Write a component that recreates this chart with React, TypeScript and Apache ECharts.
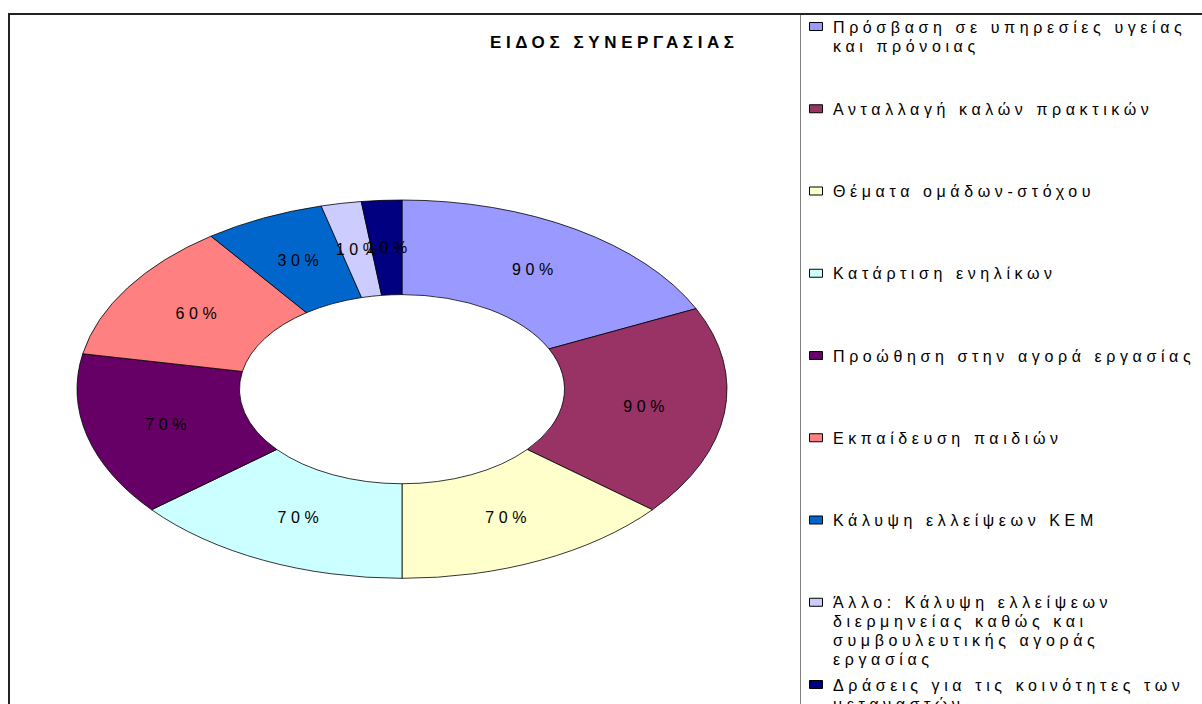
import React, { useEffect, useRef } from "react";
import * as echarts from "echarts";

const chartTitle = "ΕΙΔΟΣ ΣΥΝΕΡΓΑΣΙΑΣ";

const categories = [
  "Πρόσβαση σε υπηρεσίες υγείας και πρόνοιας",
  "Ανταλλαγή καλών πρακτικών",
  "Θέματα ομάδων-στόχου",
  "Κατάρτιση ενηλίκων",
  "Προώθηση στην αγορά εργασίας",
  "Εκπαίδευση παιδιών",
  "Κάλυψη ελλείψεων ΚΕΜ",
  "Άλλο: Κάλυψη ελλείψεων διερμηνείας καθώς και συμβουλευτικής αγοράς εργασίας",
  "Δράσεις για τις κοινότητες των μεταναστών",
];

// how the legend entries wrap in the reference
const legendLines = [
  ["Πρόσβαση σε υπηρεσίες υγείας", "και πρόνοιας"],
  ["Ανταλλαγή καλών πρακτικών"],
  ["Θέματα ομάδων-στόχου"],
  ["Κατάρτιση ενηλίκων"],
  ["Προώθηση στην αγορά εργασίας"],
  ["Εκπαίδευση παιδιών"],
  ["Κάλυψη ελλείψεων ΚΕΜ"],
  ["Άλλο: Κάλυψη ελλείψεων", "διερμηνείας καθώς και", "συμβουλευτικής αγοράς", "εργασίας"],
  ["Δράσεις για τις κοινότητες των", "μεταναστών"],
];

const percentValues = [90, 90, 70, 70, 70, 60, 30, 10, 10];

const sliceColors = [
  "#9999FF",
  "#993366",
  "#FFFFCC",
  "#CCFFFF",
  "#660066",
  "#FF8080",
  "#0066CC",
  "#CCCCFF",
  "#000080",
];

const FONT = '"Liberation Sans", Arial, Helvetica, sans-serif';
const SPACING = 4.6;

export default function App() {
  const ref = useRef<HTMLDivElement>(null);

  useEffect(() => {
    if (!ref.current) return;
    const chart = echarts.init(ref.current, null, { renderer: "svg" });

    const total = percentValues.reduce((a, b) => a + b, 0);
    const starts: number[] = [];
    let acc = 0;
    percentValues.forEach((v) => {
      starts.push(acc);
      acc += v;
    });

    const CX = 402;
    const CY = 389;
    const RX = 325;
    const RY = 189;
    const INNER = 0.5;
    const LABEL_R = 0.75;

    const legendGraphics: any[] = [];
    legendLines.forEach((lines, i) => {
      const baseY = 27 + 82.25 * i;
      legendGraphics.push({
        type: "rect",
        shape: { x: 809.5, y: baseY - 4.5, width: 13, height: 8 },
        style: { fill: sliceColors[i], stroke: "#000", lineWidth: 1 },
        z: 10,
      });
      legendGraphics.push({
        type: "text",
        x: 833,
        y: baseY - 9.5,
        style: {
          text: lines.join("\n"),
          font: `16px ${FONT}`,
          fill: "#000",
          align: "left",
          verticalAlign: "top",
          lineHeight: 19,
        },
        z: 10,
      });
    });

    chart.setOption({
      animation: false,
      backgroundColor: "#ffffff",
      graphic: [
        {
          type: "line",
          shape: { x1: 8, y1: 14, x2: 1202, y2: 14 },
          style: { stroke: "#222", lineWidth: 2 },
          z: 20,
        },
        {
          type: "line",
          shape: { x1: 9, y1: 13, x2: 9, y2: 704 },
          style: { stroke: "#222", lineWidth: 2 },
          z: 20,
        },
        {
          type: "line",
          shape: { x1: 800.5, y1: 15, x2: 800.5, y2: 704 },
          style: { stroke: "#808080", lineWidth: 1 },
          z: 20,
        },
        {
          type: "text",
          x: 612 + SPACING / 2,
          y: 42,
          style: {
            text: chartTitle,
            font: `bold 17px ${FONT}`,
            fill: "#000",
            align: "center",
            verticalAlign: "middle",
          },
          z: 20,
        },
        ...legendGraphics,
      ],
      series: [
        {
          type: "custom",
          coordinateSystem: "none",
          data: percentValues.map((v, i) => ({ value: v, name: categories[i] })),
          renderItem: (params: any, api: any) => {
            const i = params.dataIndex;
            const v = api.value(0);
            const a0 = -Math.PI / 2 + (starts[i] / total) * Math.PI * 2;
            const a1 = a0 + (v / total) * Math.PI * 2;
            const mid = (a0 + a1) / 2;
            return {
              type: "group",
              children: [
                {
                  type: "sector",
                  shape: {
                    cx: CX,
                    cy: CY,
                    r: RX,
                    r0: RX * INNER,
                    startAngle: a0,
                    endAngle: a1,
                    clockwise: true,
                  },
                  originX: CX,
                  originY: CY,
                  scaleY: RY / RX,
                  style: {
                    fill: sliceColors[i],
                    stroke: "#000",
                    lineWidth: 1,
                    strokeNoScale: true,
                  },
                },
                {
                  type: "text",
                  x: CX + LABEL_R * RX * Math.cos(mid) + SPACING / 2,
                  y: CY + LABEL_R * RY * Math.sin(mid),
                  z2: 100,
                  style: {
                    text: `${v}%`,
                    font: `16px ${FONT}`,
                    fill: "#000",
                    align: "center",
                    verticalAlign: "middle",
                  },
                },
              ],
            };
          },
        },
      ],
    });

    return () => chart.dispose();
  }, []);

  return (
    <>
      <style>{`.chart-root svg text { letter-spacing: ${SPACING}px; }`}</style>
      <div
        ref={ref}
        className="chart-root"
        style={{ position: "fixed", left: 0, top: 0, width: 1202, height: 704, background: "#fff" }}
      />
    </>
  );
}
